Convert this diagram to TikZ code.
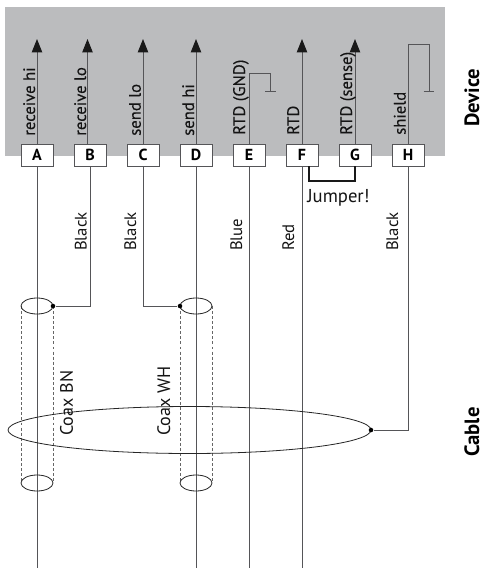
\documentclass[tikz,border=0pt]{standalone}
\usepackage{fontspec}
\setmainfont{PT Sans}
\usetikzlibrary{arrows.meta}
\definecolor{panel}{RGB}{187,188,190}
\definecolor{wirec}{RGB}{85,85,88}
\tikzset{
  wire/.style={draw=wirec,line width=0.72pt},
  arrowwire/.style={wire,-{Triangle[length=10pt,width=7.8pt,color=black!90]}},
  termbox/.style={draw=wirec,fill=white,line width=0.72pt,minimum width=24pt,minimum height=16.5pt,inner sep=0pt,font=\fontsize{12}{13}\selectfont\bfseries},
  flat/.style={inner sep=0pt,font=\fontsize{12.5}{14}\selectfont,text=black!92},
  lbl/.style={flat,rotate=90,anchor=base west},
  lblb/.style={lbl,font=\fontsize{12.5}{14}\selectfont\addfontfeatures{FakeBold=0.25}},
  lblw/.style={lbl,font=\fontsize{13.5}{15}\selectfont},
  side/.style={rotate=90,anchor=base west,inner sep=0pt,font=\fontsize{15.5}{17}\selectfont\bfseries},
  tube/.style={draw=black!85,line width=0.6pt},
  shieldline/.style={draw=black!60,line width=0.6pt,dash pattern=on 2.2pt off 1.6pt},
  dotn/.style={circle,fill=black,inner sep=0pt,minimum size=3.4pt},
}
\begin{document}
\begin{tikzpicture}[x=0.75pt,y=-0.75pt]
\useasboundingbox (0,0) rectangle (484,569);
\fill[white] (0,0) rectangle (484,569);
\fill[panel] (5,7) rectangle (445,156);
% shields
\draw[shieldline] (21,306) -- (21,483) (53,306) -- (53,483) (180,306) -- (180,483) (212,306) -- (212,483);
% coordinates
\foreach \n/\x/\y in {ta/37/39,tb/87.5/39,sb/87.5/144,tc/143/39,td/196/39,tf/302/39,tg/355/39,
  ba/37/568,bb/90/306,bc/143/306,bd/196/568,be/249/568,bf/302/568,bh/408/430,
  e1/249/73,e2/270.5/73,e3/270.5/91,g1/265/91,g2/276/91,
  h1/408/44,h2/429/44,h3/429/91,k1/423.5/91,k2/434/91,j0/309/166,j1/309/181,j2/355/181}
  {\coordinate (\n) at (\x,\y);}
% terminals
\foreach \n/\x in {A/37,B/90,C/143,D/196,E/249,F/302,G/355,H/408}
  \node[termbox] (\n) at (\x,155) {\n};
% upward wires
\draw[arrowwire] (A.north) -- (ta);
\draw[arrowwire] (sb) -- (tb);
\draw[arrowwire] (C.north) -- (tc);
\draw[arrowwire] (D.north) -- (td);
\draw[arrowwire] (F.north) -- (tf);
\draw[arrowwire] (G.north) -- (tg);
% ground wires
\draw[wire] (E.north) -- (e1) -- (e2) -- (e3);
\draw[wire] (g1) -- (g2);
\draw[wire] (H.north) -- (h1) -- (h2) -- (h3);
\draw[wire] (k1) -- (k2);
% lower wires
\draw[wire] (A.south) -- (ba);
\draw[wire] (D.south) -- (bd);
\draw[wire] (E.south) -- (be);
\draw[wire] (F.south) -- (bf);
% ellipses
\draw[tube] (37,306) ellipse (16 and 8);
\draw[tube] (196,306) ellipse (16 and 8);
\draw[tube] (37,483) ellipse (16 and 8);
\draw[tube] (196,483) ellipse (16 and 8);
\draw[tube] (189.5,430) ellipse (181.5 and 23.5);
% dots and branch wires
\node[dotn] (db) at (53,306) {};
\node[dotn] (dc) at (180,306) {};
\node[dotn] (dh) at (371,430) {};
\draw[wire] (B.south) -- (bb) -- (db);
\draw[wire] (C.south) -- (bc) -- (dc);
\draw[wire] (H.south) -- (bh) -- (dh);
% jumper
\draw[draw=black!90,line width=0.8pt] (j0) -- (j1) -- (j2) -- (G.south);
\node[flat,anchor=base west,font=\fontsize{14}{16}\selectfont] (jt) at (307,202) {Jumper!};
% top labels
\node[lblb] (l1) at (35,136) {receive hi};
\node[lblb] (l2) at (86,136) {receive lo};
\node[lblb] (l3) at (140.7,136) {send lo};
\node[lblb] (l4) at (194,136) {send hi};
\node[lblb] (l5) at (245,135) {RTD (GND)};
\node[lblb] (l6) at (299,135) {RTD};
\node[lblb] (l7) at (352,135) {RTD (sense)};
\node[lblb] (l8) at (405.6,135) {shield};
% wire labels
\node[lbl] (w1) at (86.7,251) {Black};
\node[lbl] (w2) at (136,251) {Black};
\node[lbl] (w3) at (242,251) {Blue};
\node[lbl] (w4) at (294,251) {Red};
\node[lbl] (w5) at (398,251) {Black};
\node[lblw] (w6) at (73,436) {Coax BN};
\node[lblw] (w7) at (170,436) {Coax WH};
\node[side] (s1) at (479,127) {Device};
\node[side] (s2) at (479,457) {Cable};
\end{tikzpicture}
\end{document}
